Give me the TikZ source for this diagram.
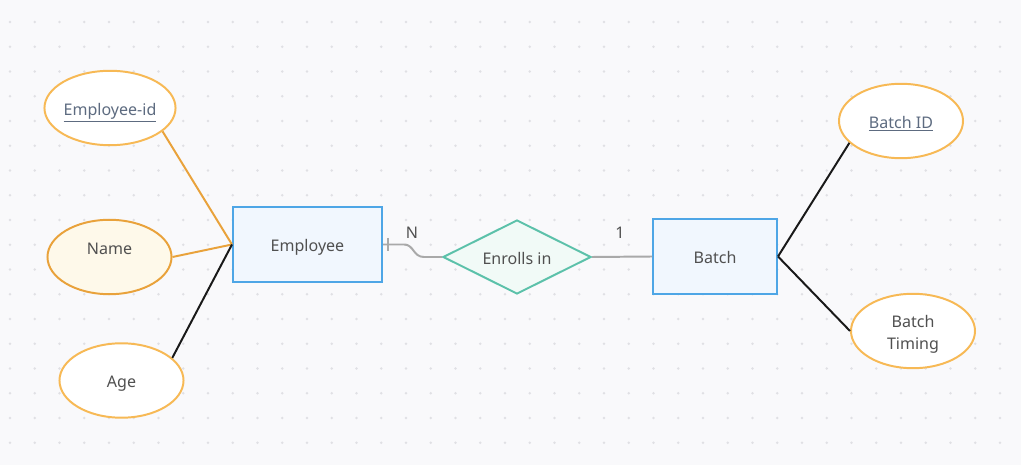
\documentclass[tikz,border=0pt]{standalone}
\usepackage{fontspec}
\setmainfont{Noto Sans}
\usetikzlibrary{shapes.geometric, positioning}

\definecolor{bgcol}{HTML}{F9F9FB}
\definecolor{dotcol}{HTML}{E0E0E4}
\definecolor{attrline}{HTML}{F7B955}
\definecolor{attrdark}{HTML}{E9A23B}
\definecolor{attrfill}{HTML}{FEF9EA}
\definecolor{entline}{HTML}{4EA6E6}
\definecolor{entfill}{HTML}{F1F7FE}
\definecolor{relline}{HTML}{5CC1AA}
\definecolor{relfill}{HTML}{F1FAF7}
\definecolor{linkgray}{HTML}{A9A9A9}
\definecolor{txtcol}{HTML}{505050}
\definecolor{keycol}{HTML}{5D6B80}

\tikzset{
  base/.style={font=\fontsize{11.4}{15.6}\selectfont, text=txtcol, align=center,
    inner sep=0pt, text height=12pt, text depth=2pt},
  entity/.style={base, draw=entline, fill=entfill, line width=1.4pt, minimum height=1.875cm},
  attr/.style={base, ellipse, draw=attrline, fill=white, line width=1.4pt,
    minimum width=3.1cm, minimum height=1.86cm},
  keyattr/.style={attr, text=keycol},
  relation/.style={base, diamond, shape aspect=2, draw=relline, fill=relfill, line width=1.4pt,
    minimum width=3.7cm, minimum height=1.85cm},
  attrlink/.style={line width=1.4pt, attrdark},
  blacklink/.style={line width=1.4pt, black!90},
  graylink/.style={line width=1.4pt, linkgray}
}

\begin{document}
\begin{tikzpicture}[x=0.025cm, y=-0.025cm]
    % --- Background with dot grid ---
    \fill[bgcol] (0,0) rectangle (1021,465);
    \foreach \i in {0,...,40}
      \foreach \j in {0,...,17}
        \fill[dotcol] (10+\i*24.75, 22+\j*24.75) circle (1.3);

    % --- Entities and relation ---
    \node[entity, minimum width=3.725cm] (emp) at (307.5,244.5) {Employee};
    \node[relation] (rel) at (517,257) {Enrolls in};
    \node[entity, minimum width=3.1cm] (bat) at (715,256.5) {Batch};

    % --- Attributes ---
    \node[keyattr] (eid) at (110,108) {\underline{Employee-id}};
    \node[attr, draw=attrdark, fill=attrfill] (name) at (109.5,257) {\raisebox{7pt}{Name}};
    \node[attr] (age) at (121.5,380.5) {Age};
    \node[keyattr] (bid) at (901,121) {\underline{Batch ID}};
    \node[attr, text height={}, text depth={}] (btm) at (913,331) {\rule{0pt}{13pt}Batch\\Timing};

    % --- Attribute links ---
    \draw[attrlink] (eid.-24) -- (emp.west);
    \draw[attrlink] (name.east) -- (emp.west);
    \draw[blacklink] (age.24) -- (emp.west);
    \draw[blacklink] (bat.east) -- (bid.203);
    \draw[blacklink] (bat.east) -- (btm.west);

    % --- Relationship links ---
    \coordinate (bendA) at (404,244.5);
    \coordinate (bendB) at (424,257);
    \draw[graylink] (emp.east) -- (bendA)
      .. controls (414,244.5) and (413,257) .. (bendB) -- (rel.west);
    \draw[graylink] (388,238) -- (388,251);
    \draw[graylink] (rel.east) -- (bat.west);

    % --- Cardinalities ---
    \node[base] (cardN) at (412,231.5) {N};
    \node[base] (card1) at (620,231.5) {1};
\end{tikzpicture}
\end{document}
